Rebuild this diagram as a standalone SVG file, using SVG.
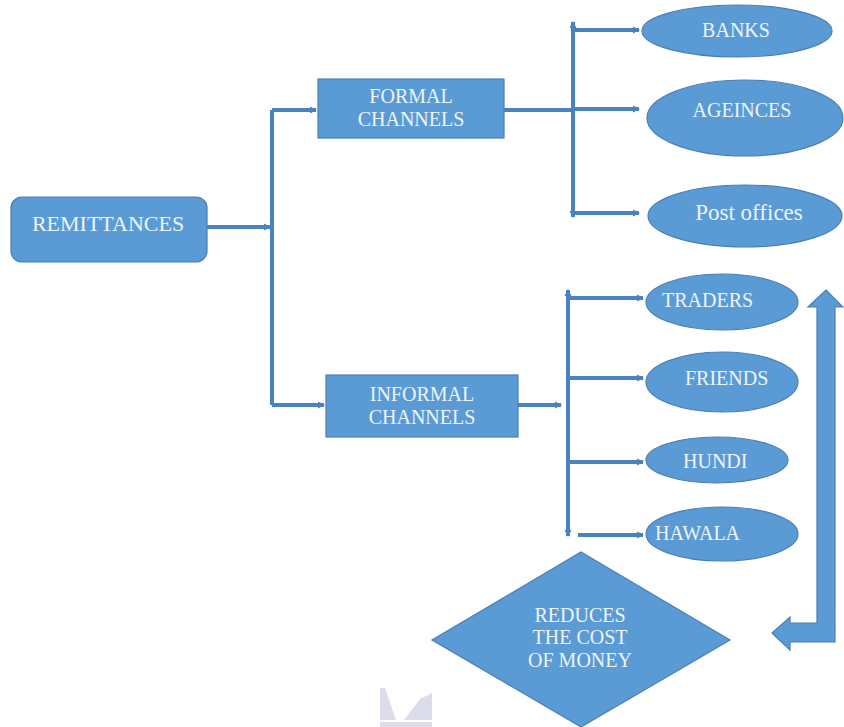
<svg xmlns="http://www.w3.org/2000/svg" width="844" height="727" viewBox="0 0 844 727">
<style>
.n{fill:#5b9bd5;stroke:#4a7fb5;stroke-width:1.2}
.t{font-family:"Liberation Serif","Times New Roman",serif;font-size:20px;fill:#eef4fb}
.c{fill:none;stroke:#4a82c0;stroke-width:4}
.wm{fill:#dcdcea}
</style>
<defs>
<marker id="ah" markerUnits="userSpaceOnUse" markerWidth="8" markerHeight="8" refX="6" refY="4" orient="auto-start-reverse">
<path d="M0,0.5 L7,4 L0,7.5 Z" fill="#4a82c0"/>
</marker>
</defs>
<rect width="844" height="727" fill="#ffffff"/>
<g id="watermark">
<polygon class="wm" points="380,688 385,688 396,720 380,720"/>
<polygon class="wm" points="420,699 432,693 432,720 404,720"/>
<rect class="wm" x="380" y="722" width="52" height="5"/>
</g>
<g id="connectors">
<path class="c" d="M207,227 H270" marker-end="url(#ah)"/>
<path class="c" d="M272,405 V110"/>
<path class="c" d="M272,110 H316" marker-end="url(#ah)"/>
<path class="c" d="M272,405 H324" marker-end="url(#ah)"/>
<path class="c" d="M504,110 H571"/>
<path class="c" d="M573,22 V217" marker-start="url(#ah)" marker-end="url(#ah)"/>
<path class="c" d="M575,30 H639" marker-end="url(#ah)"/>
<path class="c" d="M575,109 H639" marker-end="url(#ah)"/>
<path class="c" d="M575,213 H639" marker-end="url(#ah)"/>
<path class="c" d="M518,405 H561" marker-end="url(#ah)"/>
<path class="c" d="M568,290 V536" marker-start="url(#ah)" marker-end="url(#ah)"/>
<path class="c" d="M570,298 H643" marker-end="url(#ah)"/>
<path class="c" d="M570,378 H643" marker-end="url(#ah)"/>
<path class="c" d="M570,462 H643" marker-end="url(#ah)"/>
<path class="c" d="M578,535 H643" marker-end="url(#ah)"/>
<polygon class="n" points="826,290 843,307 835,307 835,642 790,642 790,650 772,633 790,617 790,623 817,623 817,307 808,307"/>
</g>
<g id="remittances">
<rect class="n" x="11" y="197" width="196" height="65" rx="11"/>
<text class="t" x="108" y="231" text-anchor="middle" style="font-size:22px">REMITTANCES</text>
</g>
<g id="formal">
<rect class="n" x="318" y="79" width="186" height="59"/>
<text class="t" x="411" y="103" text-anchor="middle">FORMAL</text>
<text class="t" x="411" y="126" text-anchor="middle">CHANNELS</text>
</g>
<g id="informal">
<rect class="n" x="326" y="375" width="192" height="62"/>
<text class="t" x="422" y="401" text-anchor="middle">INFORMAL</text>
<text class="t" x="422" y="424" text-anchor="middle">CHANNELS</text>
</g>
<g id="banks">
<ellipse class="n" cx="737" cy="31" rx="95" ry="26"/>
<text class="t" x="736" y="37" text-anchor="middle">BANKS</text>
</g>
<g id="ageinces">
<ellipse class="n" cx="745" cy="118" rx="98" ry="38"/>
<text class="t" x="742" y="117" text-anchor="middle">AGEINCES</text>
</g>
<g id="postoffices">
<ellipse class="n" cx="745" cy="216" rx="97" ry="31"/>
<text class="t" x="749" y="220" text-anchor="middle" style="font-size:23px">Post offices</text>
</g>
<g id="traders">
<ellipse class="n" cx="722" cy="302" rx="76" ry="28"/>
<text class="t" x="662" y="307">TRADERS</text>
</g>
<g id="friends">
<ellipse class="n" cx="722" cy="382" rx="76" ry="30"/>
<text class="t" x="685" y="385">FRIENDS</text>
</g>
<g id="hundi">
<ellipse class="n" cx="717" cy="460" rx="71" ry="23"/>
<text class="t" x="683" y="468">HUNDI</text>
</g>
<g id="hawala">
<ellipse class="n" cx="722" cy="534" rx="76" ry="27"/>
<text class="t" x="655" y="540">HAWALA</text>
</g>
<g id="reduces">
<polygon class="n" points="581,552 730,640 581,727 432,640"/>
<text class="t" x="580" y="622" text-anchor="middle">REDUCES</text>
<text class="t" x="580" y="644" text-anchor="middle">THE COST</text>
<text class="t" x="580" y="667" text-anchor="middle">OF MONEY</text>
</g>
</svg>
